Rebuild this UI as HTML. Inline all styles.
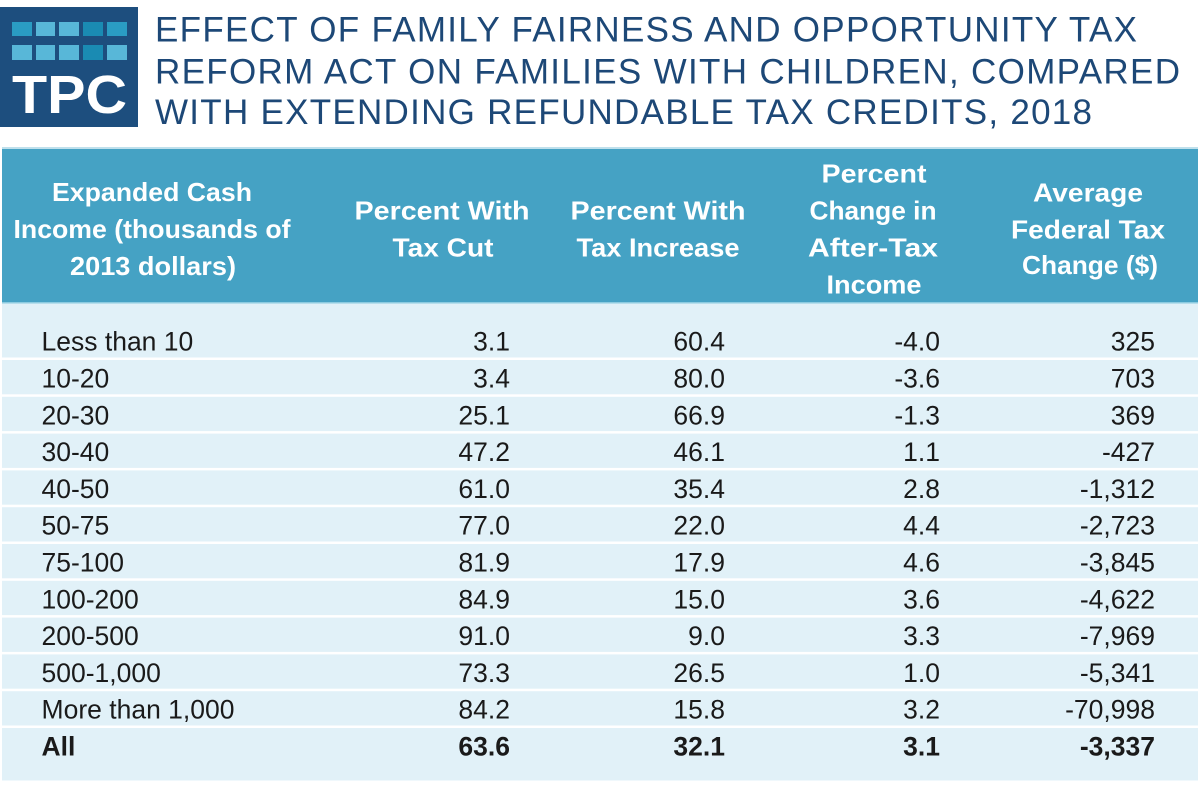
<!DOCTYPE html>
<html><head><meta charset="utf-8"><style>
html,body{margin:0;padding:0;background:#fff;width:1200px;height:785px;overflow:hidden}
svg{display:block}
.t{font-family:"Liberation Sans",sans-serif;fill:#1d4877;font-size:35px}
.h{font-family:"Liberation Sans",sans-serif;fill:#fff;font-size:26px;font-weight:bold;text-anchor:middle}
.b{font-family:"Liberation Sans",sans-serif;fill:#1a1a1a;font-size:26.5px}
.n{text-anchor:end}
.bold{font-weight:bold}
</style></head><body>
<svg width="1200" height="785" viewBox="0 0 1200 785" xmlns="http://www.w3.org/2000/svg">
<!-- logo -->
<rect x="0" y="7" width="138" height="120" fill="#1d4e7e"/>
<g>
<rect x="12" y="22" width="20" height="14" fill="#2a9cc3"/>
<rect x="36" y="22" width="19" height="14" fill="#58b7d8"/>
<rect x="59" y="22" width="20" height="14" fill="#58b7d8"/>
<rect x="83" y="22" width="20" height="14" fill="#1a8bb3"/>
<rect x="107" y="22" width="20" height="14" fill="#2a9cc3"/>
<rect x="12" y="45" width="20" height="15" fill="#58b7d8"/>
<rect x="36" y="45" width="19" height="15" fill="#58b7d8"/>
<rect x="59" y="45" width="20" height="15" fill="#58b7d8"/>
<rect x="83" y="45" width="20" height="15" fill="#1a8bb3"/>
<rect x="107" y="45" width="20" height="15" fill="#58b7d8"/>
</g>
<text x="12" y="113" font-family="Liberation Sans, sans-serif" font-weight="bold" font-size="54" fill="#fff" textLength="115" lengthAdjust="spacingAndGlyphs">TPC</text>
<!-- title -->
<text class="t" x="155" y="41.7" textLength="982" lengthAdjust="spacing">EFFECT OF FAMILY FAIRNESS AND OPPORTUNITY TAX</text>
<text class="t" x="155" y="83.3" textLength="1025" lengthAdjust="spacing">REFORM ACT ON FAMILIES WITH CHILDREN, COMPARED</text>
<text class="t" x="155" y="124" textLength="937" lengthAdjust="spacing">WITH EXTENDING REFUNDABLE TAX CREDITS, 2018</text>
<!-- table header -->
<rect x="2" y="147" width="1196" height="2" fill="#bfe0ec"/>
<rect x="2" y="149" width="1196" height="154" fill="#45a2c4"/>
<rect x="2" y="302" width="1196" height="1.5" fill="#8ccbe0"/>
<text class="h" x="152" y="201" textLength="200" lengthAdjust="spacingAndGlyphs">Expanded Cash</text>
<text class="h" x="152" y="238" textLength="277" lengthAdjust="spacingAndGlyphs">Income (thousands of</text>
<text class="h" x="153" y="275" textLength="166" lengthAdjust="spacingAndGlyphs">2013 dollars)</text>
<text class="h" x="442" y="219.5" textLength="175" lengthAdjust="spacingAndGlyphs">Percent With</text>
<text class="h" x="443" y="256.5" textLength="101" lengthAdjust="spacingAndGlyphs">Tax Cut</text>
<text class="h" x="658" y="219.5" textLength="175" lengthAdjust="spacingAndGlyphs">Percent With</text>
<text class="h" x="658" y="256.5" textLength="163" lengthAdjust="spacingAndGlyphs">Tax Increase</text>
<text class="h" x="874" y="182.7" textLength="105" lengthAdjust="spacingAndGlyphs">Percent</text>
<text class="h" x="873" y="219.7" textLength="127" lengthAdjust="spacingAndGlyphs">Change in</text>
<text class="h" x="873" y="256.7" textLength="130" lengthAdjust="spacingAndGlyphs">After-Tax</text>
<text class="h" x="874" y="293.7" textLength="95" lengthAdjust="spacingAndGlyphs">Income</text>
<text class="h" x="1088" y="201.5" textLength="110" lengthAdjust="spacingAndGlyphs">Average</text>
<text class="h" x="1088" y="238.3" textLength="154" lengthAdjust="spacingAndGlyphs">Federal Tax</text>
<text class="h" x="1090" y="274" textLength="136" lengthAdjust="spacingAndGlyphs">Change ($)</text>
<!-- body -->
<rect x="2" y="303.5" width="1196" height="477" fill="#e1f1f8"/>
<g fill="#ffffff">
<rect x="2" y="357.5" width="1196" height="2.5"/>
<rect x="2" y="394.3" width="1196" height="2.5"/>
<rect x="2" y="431.1" width="1196" height="2.5"/>
<rect x="2" y="467.9" width="1196" height="2.5"/>
<rect x="2" y="504.7" width="1196" height="2.5"/>
<rect x="2" y="541.5" width="1196" height="2.5"/>
<rect x="2" y="578.3" width="1196" height="2.5"/>
<rect x="2" y="615.1" width="1196" height="2.5"/>
<rect x="2" y="651.9" width="1196" height="2.5"/>
<rect x="2" y="688.7" width="1196" height="2.5"/>
<rect x="2" y="725.5" width="1196" height="2.5"/>
</g>
<g class="b">
<text x="41.5" y="350.7">Less than 10</text><text class="n" x="510" y="350.7">3.1</text><text class="n" x="725" y="350.7">60.4</text><text class="n" x="940" y="350.7">-4.0</text><text class="n" x="1155" y="350.7">325</text>
<text x="41.5" y="387.5">10-20</text><text class="n" x="510" y="387.5">3.4</text><text class="n" x="725" y="387.5">80.0</text><text class="n" x="940" y="387.5">-3.6</text><text class="n" x="1155" y="387.5">703</text>
<text x="41.5" y="424.3">20-30</text><text class="n" x="510" y="424.3">25.1</text><text class="n" x="725" y="424.3">66.9</text><text class="n" x="940" y="424.3">-1.3</text><text class="n" x="1155" y="424.3">369</text>
<text x="41.5" y="461.1">30-40</text><text class="n" x="510" y="461.1">47.2</text><text class="n" x="725" y="461.1">46.1</text><text class="n" x="940" y="461.1">1.1</text><text class="n" x="1155" y="461.1">-427</text>
<text x="41.5" y="497.9">40-50</text><text class="n" x="510" y="497.9">61.0</text><text class="n" x="725" y="497.9">35.4</text><text class="n" x="940" y="497.9">2.8</text><text class="n" x="1155" y="497.9">-1,312</text>
<text x="41.5" y="534.7">50-75</text><text class="n" x="510" y="534.7">77.0</text><text class="n" x="725" y="534.7">22.0</text><text class="n" x="940" y="534.7">4.4</text><text class="n" x="1155" y="534.7">-2,723</text>
<text x="41.5" y="571.5">75-100</text><text class="n" x="510" y="571.5">81.9</text><text class="n" x="725" y="571.5">17.9</text><text class="n" x="940" y="571.5">4.6</text><text class="n" x="1155" y="571.5">-3,845</text>
<text x="41.5" y="608.3">100-200</text><text class="n" x="510" y="608.3">84.9</text><text class="n" x="725" y="608.3">15.0</text><text class="n" x="940" y="608.3">3.6</text><text class="n" x="1155" y="608.3">-4,622</text>
<text x="41.5" y="645.1">200-500</text><text class="n" x="510" y="645.1">91.0</text><text class="n" x="725" y="645.1">9.0</text><text class="n" x="940" y="645.1">3.3</text><text class="n" x="1155" y="645.1">-7,969</text>
<text x="41.5" y="681.9">500-1,000</text><text class="n" x="510" y="681.9">73.3</text><text class="n" x="725" y="681.9">26.5</text><text class="n" x="940" y="681.9">1.0</text><text class="n" x="1155" y="681.9">-5,341</text>
<text x="41.5" y="718.7">More than 1,000</text><text class="n" x="510" y="718.7">84.2</text><text class="n" x="725" y="718.7">15.8</text><text class="n" x="940" y="718.7">3.2</text><text class="n" x="1155" y="718.7">-70,998</text>
<g class="bold">
<text x="41.5" y="755.5">All</text><text class="n" x="510" y="755.5">63.6</text><text class="n" x="725" y="755.5">32.1</text><text class="n" x="940" y="755.5">3.1</text><text class="n" x="1155" y="755.5">-3,337</text>
</g>
</g>
</svg>
</body></html>
